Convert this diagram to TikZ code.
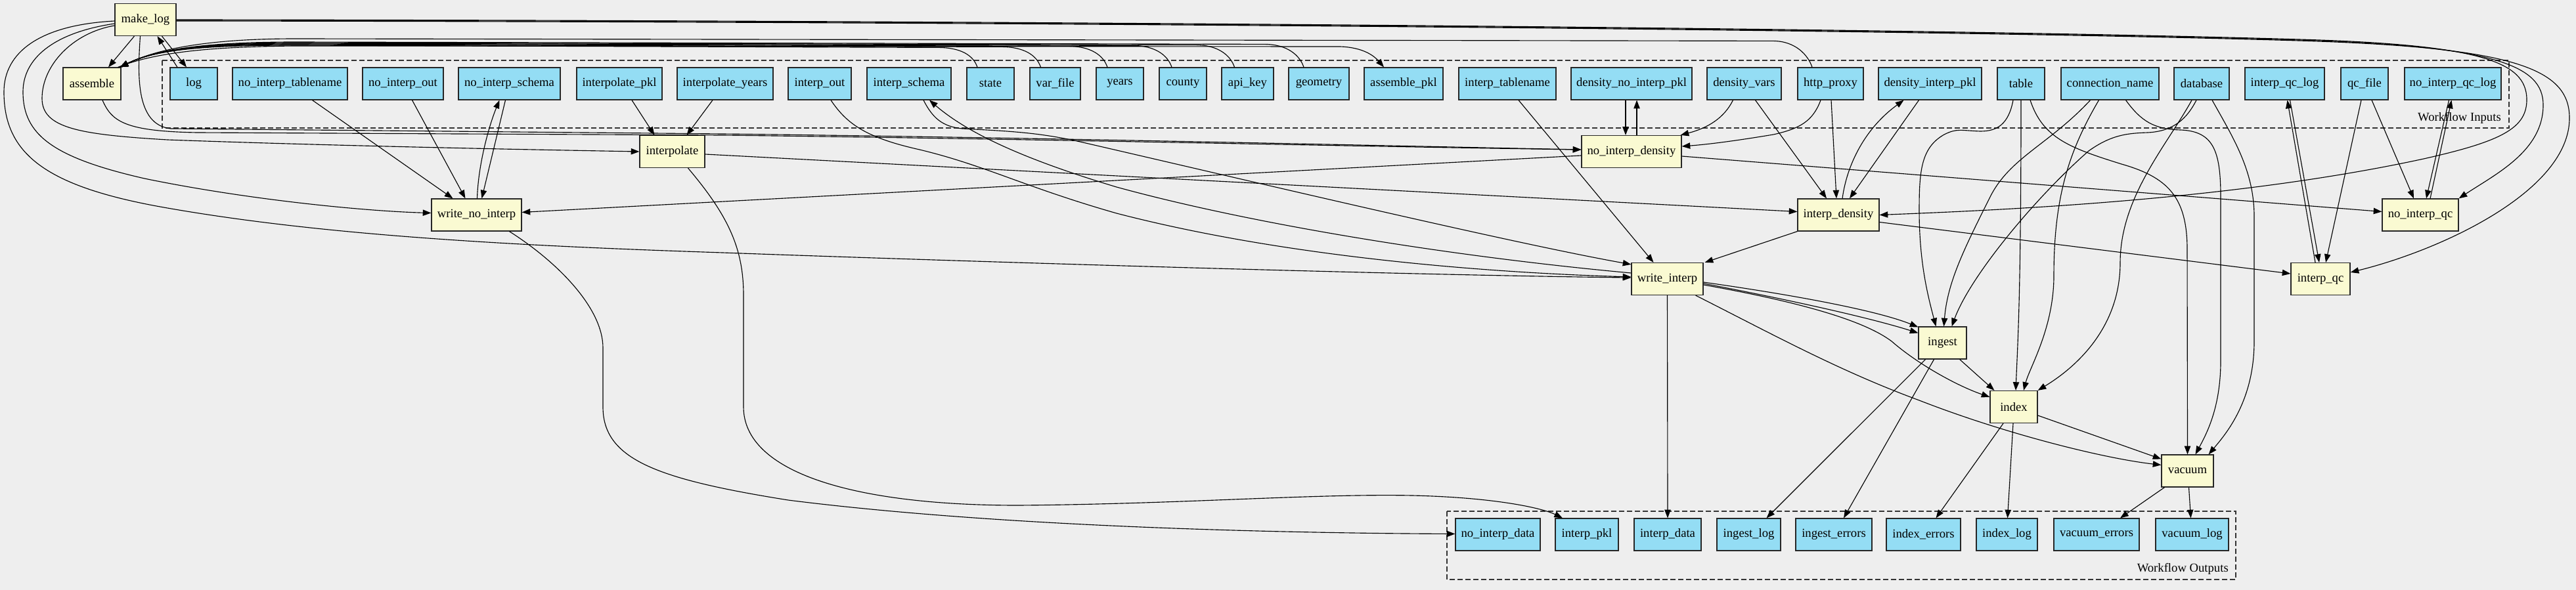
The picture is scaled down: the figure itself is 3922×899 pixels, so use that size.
\documentclass[tikz,border=0pt]{standalone}
\usepackage{fontspec}
\setmainfont{Liberation Serif}
\usetikzlibrary{arrows.meta,calc}
\definecolor{bgc}{HTML}{EEEEEE}
\definecolor{procc}{HTML}{FAFAD2}
\definecolor{datac}{HTML}{94DDF4}
\newcommand\bx[6]{\pgfmathsetmacro\bxc{(#3+#4)/2}\pgfmathsetmacro\bxw{(#4-#3)*0.75}\node[#1,minimum width=\bxw pt] (#2) at (\bxc,#5) {#6};}
\begin{document}
\begin{tikzpicture}[x=0.75pt,y=-0.75pt,
 box/.style={draw=black!85, line width=0.9pt, minimum height=36.75pt, inner sep=0pt, font=\fontsize{14}{16}\selectfont},
 proc/.style={box, fill=procc},
 data/.style={box, fill=datac},
 arr/.style={-{Triangle[length=9.5pt,width=7pt]}, line width=0.85pt, draw=black},
 cluster/.style={draw=black!80, dash pattern=on 6pt off 3pt, line width=0.9pt},
 lbl/.style={font=\fontsize{14}{16}\selectfont, inner sep=0pt, anchor=east}]
\fill[bgc] (0,0) rectangle (3922,899);
\useasboundingbox (0,0) rectangle (3922,899);
% clusters
\draw[cluster] (247,92) rectangle (3820,195);
\draw[cluster] (2203,779) rectangle (3404,883);
\node[lbl] (inLabel) at (3808,180) {Workflow Inputs};
\node[lbl] (outLabel) at (3393,867) {Workflow Outputs};
% nodes
\bx{proc}{makelog}{175}{268}{30}{make\_log}
\bx{proc}{assemble}{96}{184}{127.5}{assemble}
\bx{data}{log}{259}{331}{127.5}{log}
\bx{data}{noInterpTablename}{354}{529}{127.5}{no\_interp\_tablename}
\bx{data}{noInterpOut}{552}{675}{127.5}{no\_interp\_out}
\bx{data}{noInterpSchema}{698}{853}{127.5}{no\_interp\_schema}
\bx{data}{interpolatePkl}{878}{1008}{127.5}{interpolate\_pkl}
\bx{data}{interpolateYears}{1031}{1177}{127.5}{interpolate\_years}
\bx{data}{interpOut}{1200}{1296}{127.5}{interp\_out}
\bx{data}{interpSchema}{1320}{1448}{127.5}{interp\_schema}
\bx{data}{state}{1472}{1544}{127.5}{state}
\bx{data}{varfile}{1568}{1645}{127.5}{var\_file}
\bx{data}{years}{1669}{1741}{127.5}{years}
\bx{data}{county}{1765}{1837}{127.5}{county}
\bx{data}{apikey}{1860}{1939}{127.5}{api\_key}
\bx{data}{geometry}{1962}{2054}{127.5}{geometry}
\bx{data}{assemblePkl}{2077}{2197}{127.5}{assemble\_pkl}
\bx{data}{interpTablename}{2221}{2369}{127.5}{interp\_tablename}
\bx{data}{densityNoInterpPkl}{2392}{2576}{127.5}{density\_no\_interp\_pkl}
\bx{data}{densityVars}{2599}{2712}{127.5}{density\_vars}
\bx{data}{httpProxy}{2737}{2837}{127.5}{http\_proxy}
\bx{data}{densityInterpPkl}{2860}{3017}{127.5}{density\_interp\_pkl}
\bx{data}{table}{3041}{3113}{127.5}{table}
\bx{data}{connectionName}{3138}{3287}{127.5}{connection\_name}
\bx{data}{database}{3310}{3394}{127.5}{database}
\bx{data}{interpQcLog}{3418}{3539}{127.5}{interp\_qc\_log}
\bx{data}{qcFile}{3564}{3636}{127.5}{qc\_file}
\bx{data}{noInterpQcLog}{3661}{3808}{127.5}{no\_interp\_qc\_log}
\bx{proc}{interpolate}{974}{1073}{231}{interpolate}
\bx{proc}{noInterpDensity}{2408}{2560}{231}{no\_interp\_density}
\bx{proc}{writeNoInterp}{657}{794}{327.5}{write\_no\_interp}
\bx{proc}{interpDensity}{2737}{2861}{327.5}{interp\_density}
\bx{proc}{noInterpQc}{3627}{3743}{327.5}{no\_interp\_qc}
\bx{proc}{writeInterp}{2484}{2593}{425}{write\_interp}
\bx{proc}{interpQc}{3488}{3578}{425}{interp\_qc}
\bx{proc}{ingest}{2921}{2994}{522.5}{ingest}
\bx{proc}{index}{3030}{3102}{620}{index}
\bx{proc}{vacuum}{3291}{3370}{717.5}{vacuum}
\bx{data}{noInterpData}{2216}{2345}{814.5}{no\_interp\_data}
\bx{data}{interpPkl}{2368}{2464}{814.5}{interp\_pkl}
\bx{data}{interpData}{2488}{2590}{814.5}{interp\_data}
\bx{data}{ingestLog}{2614}{2711}{814.5}{ingest\_log}
\bx{data}{ingestErrors}{2734}{2850}{814.5}{ingest\_errors}
\bx{data}{indexErrors}{2872}{2985}{814.5}{index\_errors}
\bx{data}{indexLog}{3009}{3102}{814.5}{index\_log}
\bx{data}{vacuumErrors}{3127}{3257}{814.5}{vacuum\_errors}
\bx{data}{vacuumLog}{3282}{3393}{814.5}{vacuum\_log}
% make_log local edges
\draw[arr] ($(makelog.south)+(-17,0)$) -- ($(assemble.north)+(25,0)$);
\draw[arr] ($(makelog.south)+(25,0)$) -- ($(log.north)+(-11,0)$);
\draw[arr] ($(log.north)+(-25,0)$) -- ($(makelog.south)+(18,0)$);
% make_log left curves
\draw[arr] ($(makelog.west)+(0,9)$) .. controls (110,50) and (64,100) .. (64,150) .. controls (64,195) and (120,205) .. (255,213) .. controls (500,222) and (800,228) .. (interpolate.west);
\draw[arr] ($(makelog.west)+(0,6)$) .. controls (80,50) and (35,90) .. (35,140) .. controls (35,205) and (80,240) .. (220,272) .. controls (380,305) and (560,322) .. ($(writeNoInterp.west)+(0,-3)$);
\draw[arr] ($(makelog.west)+(0,2)$) .. controls (60,38) and (6,80) .. (6,140) .. controls (6,235) and (70,285) .. (255,317) .. controls (500,360) and (800,375) .. (1100,385) .. controls (1600,403) and (2200,420) .. ($(writeInterp.west)+(0,-2)$);
% along the bottom of the inputs
\draw[arr] ($(makelog.south)+(-8,0)$) .. controls (210,110) and (205,190) .. (260,196) -- (1100,204) .. controls (1600,210) and (2100,222) .. ($(noInterpDensity.west)+(0,-3)$);
\draw[arr] ($(assemble.south)+(16,0)$) .. controls (170,185) and (190,200) .. (300,202) -- (1100,206) .. controls (1600,212) and (2100,224) .. ($(noInterpDensity.west)+(0,-3)$);
% make_log top line
\draw[arr] (makelog.east) .. controls (1500,31) and (2900,42) .. (3500,60) .. controls (3780,68) and (3845,95) .. (3847,150) .. controls (3848,195) and (3810,215) .. (3690,242) .. controls (3400,305) and (3050,320) .. (interpDensity.east);
\draw[arr] ($(makelog.east)+(0,1)$) .. controls (1500,32) and (2900,43) .. (3500,61) .. controls (3800,70) and (3872,100) .. (3872,160) .. controls (3872,230) and (3800,265) .. (noInterpQc.north east);
\draw[arr] ($(makelog.east)+(0,2)$) .. controls (1500,33) and (2900,44) .. (3500,62) .. controls (3830,72) and (3912,105) .. (3912,180) .. controls (3912,290) and (3720,380) .. ($(interpQc.east)+(0,-10)$);
% inputs of assemble
\foreach \n/\dx/\yb in {state/-20/73,varfile/-22/72,years/-19/71,county/-17/70,apikey/-20/69,geometry/-23/68,httpProxy/-28/63}
 \draw[arr] ($(\n.north)+(\dx,0)$) .. controls ($(\n.north)+(\dx-6,-18)$) and ($(\n.north)+(\dx-25,\yb-103)$) .. ($(\n.north)+(\dx-60,\yb-103)$) -- (450,\yb-4) .. controls (320,\yb-4) and (240,74) .. ($(assemble.north east)+(-2,0)$);
\draw[arr] ($(assemble.north east)+(-5,0)$) .. controls (235,80) and (320,71) .. (450,70) -- (2040,71) .. controls (2075,72) and (2092,85) .. ($(assemblePkl.north)+(-30,0)$);
% interpolate
\draw[arr] ($(interpolatePkl.south)+(19,0)$) -- ($(interpolate.north)+(-27,0)$);
\draw[arr] ($(interpolateYears.south)+(-19,0)$) -- ($(interpolate.north)+(22,0)$);
\draw[arr] ($(interpolate.east)+(0,4)$) -- ($(interpDensity.west)+(0,-5)$);
\draw[arr] ($(interpolate.south)+(24,0)$) .. controls (1110,330) and (1132,380) .. (1132,450) -- (1132,620) .. controls (1132,720) and (1300,770) .. (1550,770) .. controls (1800,768) and (2000,752) .. (2150,755) .. controls (2280,758) and (2350,775) .. ($(interpPkl.north)+(-37,0)$);
% write_no_interp
\draw[arr] ($(noInterpTablename.south)+(34,0)$) -- ($(writeNoInterp.north)+(-36,0)$);
\draw[arr] ($(noInterpOut.south)+(14,0)$) -- ($(writeNoInterp.north)+(-17,0)$);
\draw[arr] ($(writeNoInterp.north)+(1,0)$) .. controls (728,250) and (745,190) .. ($(noInterpSchema.south)+(-15,0)$);
\draw[arr] ($(noInterpSchema.south)+(-6,0)$) -- ($(writeNoInterp.north)+(8,0)$);
\draw[arr] ($(noInterpDensity.west)+(0,6)$) -- ($(writeNoInterp.east)+(0,-4)$);
\draw[arr] ($(writeNoInterp.south)+(50,0)$) .. controls (850,400) and (918,470) .. (918,530) -- (918,620) .. controls (918,700) and (1000,730) .. (1200,762) .. controls (1500,800) and (1900,812) .. ($(noInterpData.west)+(0,-1)$);
% no_interp_density
\draw[arr] ($(densityNoInterpPkl.south)+(-9,0)$) -- ($(noInterpDensity.north)+(-9,0)$);
\draw[arr] ($(noInterpDensity.north)+(8,0)$) -- ($(densityNoInterpPkl.south)+(8,0)$);
\draw[arr] ($(densityVars.south)+(-17,0)$) .. controls (2625,180) and (2600,195) .. ($(noInterpDensity.north east)+(-2,0)$);
\draw[arr] ($(httpProxy.south)+(-15,0)$) .. controls (2760,185) and (2740,196) .. (2700,205) .. controls (2640,215) and (2600,220) .. ($(noInterpDensity.east)+(0,-8)$);
\draw[arr] ($(noInterpDensity.east)+(0,7)$) -- ($(noInterpQc.west)+(0,-5)$);
% interp_density
\draw[arr] ($(densityVars.south)+(17,0)$) -- ($(interpDensity.north)+(-18,0)$);
\draw[arr] ($(httpProxy.south)+(1,0)$) -- ($(interpDensity.north)+(-3,0)$);
\draw[arr] ($(interpDensity.north)+(6,0)$) .. controls (2812,250) and (2840,195) .. ($(densityInterpPkl.south)+(-40,0)$);
\draw[arr] ($(densityInterpPkl.south)+(-17,0)$) -- ($(interpDensity.north)+(17,0)$);
\draw[arr] (interpDensity.south west) -- ($(writeInterp.north east)+(2,0)$);
\draw[arr] ($(interpDensity.east)+(0,11)$) -- ($(interpQc.west)+(0,-8)$);
% write_interp inputs
\draw[arr] ($(interpTablename.south)+(17,0)$) -- ($(writeInterp.north)+(-21,0)$);
\draw[arr] ($(interpOut.south)+(17,0)$) .. controls (1290,190) and (1320,210) .. (1400,228) .. controls (1500,252) and (1560,285) .. (1700,325) .. controls (1950,390) and (2250,415) .. ($(writeInterp.west)+(0,-3)$);
\draw[arr] ($(writeInterp.west)+(0,-9)$) .. controls (2200,390) and (1900,340) .. (1700,285) .. controls (1550,240) and (1470,200) .. ($(interpSchema.south)+(31,0)$);
\draw[arr] ($(interpSchema.south)+(22,0)$) .. controls (1420,180) and (1435,193) .. (1465,196) .. controls (1540,200) and (1580,202) .. (1640,215) .. controls (1900,275) and (2300,370) .. ($(writeInterp.north west)+(0,3)$);
% write_interp outputs
\draw[arr] (writeInterp.south) -- (interpData.north);
\draw[arr] ($(writeInterp.east)+(0,5)$) .. controls (2700,445) and (2850,470) .. ($(ingest.north west)+(0,1)$);
\draw[arr] ($(writeInterp.east)+(0,7)$) .. controls (2700,452) and (2840,482) .. ($(ingest.north west)+(0,10)$);
\draw[arr] ($(writeInterp.east)+(0,9)$) .. controls (2750,462) and (2840,490) .. (2880,520) .. controls (2920,555) and (2980,588) .. ($(index.west)+(0,-15)$);
\draw[arr] ($(writeInterp.south east)+(-12,0)$) .. controls (2700,510) and (2800,565) .. (2922,610) .. controls (3050,660) and (3200,698) .. ($(vacuum.west)+(0,-9)$);
% qc
\draw[arr] ($(qcFile.south)+(11,0)$) -- ($(noInterpQc.north)+(-10,0)$);
\draw[arr] ($(qcFile.south)+(-5,0)$) -- ($(interpQc.north)+(8,0)$);
\draw[arr] ($(interpQc.north)+(-8,0)$) -- ($(interpQcLog.south)+(4,0)$);
\draw[arr] ($(interpQcLog.south)+(8,0)$) -- ($(interpQc.north)+(-2,0)$);
\draw[arr] ($(noInterpQcLog.south)+(-6,0)$) -- ($(noInterpQc.north)+(9,0)$);
\draw[arr] ($(noInterpQc.north)+(15,0)$) -- ($(noInterpQcLog.south)+(-2,0)$);
% table, connection_name, database
\draw[arr] ($(table.south)+(-12,0)$) .. controls (3058,190) and (3040,200) .. (3015,200) .. controls (2985,199) and (2980,195) .. (2960,205) .. controls (2925,225) and (2922,260) .. (2922,320) .. controls (2922,400) and (2935,450) .. ($(ingest.north)+(-10,0)$);
\draw[arr] ($(connectionName.south)+(-30,0)$) .. controls (3120,220) and (3060,240) .. (3030,300) .. controls (2990,380) and (2965,430) .. ($(ingest.north)+(2,0)$);
\draw[arr] ($(database.south)+(-8,0)$) .. controls (3330,180) and (3310,200) .. (3270,202) .. controls (3240,203) and (3215,205) .. (3180,230) .. controls (3100,300) and (3000,420) .. ($(ingest.north)+(14,0)$);
\draw[arr] (table.south) .. controls (3077,450) and (3072,520) .. ($(index.north)+(3,0)$);
\draw[arr] ($(connectionName.south)+(-17,0)$) .. controls (3150,230) and (3127,300) .. (3127,420) .. controls (3127,500) and (3090,560) .. ($(index.north)+(15,0)$);
\draw[arr] ($(database.south)+(-15,0)$) .. controls (3300,220) and (3228,300) .. (3228,400) .. controls (3228,500) and (3160,560) .. (index.north east);
\draw[arr] ($(table.south)+(14,0)$) .. controls (3110,210) and (3150,225) .. (3230,250) .. controls (3300,270) and (3330,300) .. (3330,380) -- (vacuum.north);
\draw[arr] ($(connectionName.south)+(24,0)$) .. controls (3260,185) and (3280,197) .. (3320,198) .. controls (3370,200) and (3381,230) .. (3381,300) -- (3381,550) .. controls (3381,620) and (3360,660) .. ($(vacuum.north)+(12,0)$);
\draw[arr] ($(database.south)+(16,0)$) .. controls (3400,210) and (3432,260) .. (3432,330) -- (3432,520) .. controls (3432,610) and (3390,660) .. ($(vacuum.north east)+(-8,0)$);
% ingest, index, vacuum outputs
\draw[arr] ($(ingest.south east)+(-11,0)$) -- ($(index.north west)+(7,0)$);
\draw[arr] ($(ingest.south)+(-26,0)$) -- ($(ingestLog.north)+(27,0)$);
\draw[arr] ($(ingest.south)+(-13,0)$) -- ($(ingestErrors.north)+(15,0)$);
\draw[arr] ($(index.south)+(-16,0)$) -- ($(indexErrors.north)+(19,0)$);
\draw[arr] ($(index.south)+(-1,0)$) -- ($(indexLog.north)+(1,0)$);
\draw[arr] ($(index.east)+(0,13)$) -- ($(vacuum.north west)+(0,7)$);
\draw[arr] ($(vacuum.south)+(-35,0)$) -- ($(vacuumErrors.north)+(36,0)$);
\draw[arr] ($(vacuum.south)+(2,0)$) -- ($(vacuumLog.north)+(-2,0)$);
\end{tikzpicture}
\end{document}
